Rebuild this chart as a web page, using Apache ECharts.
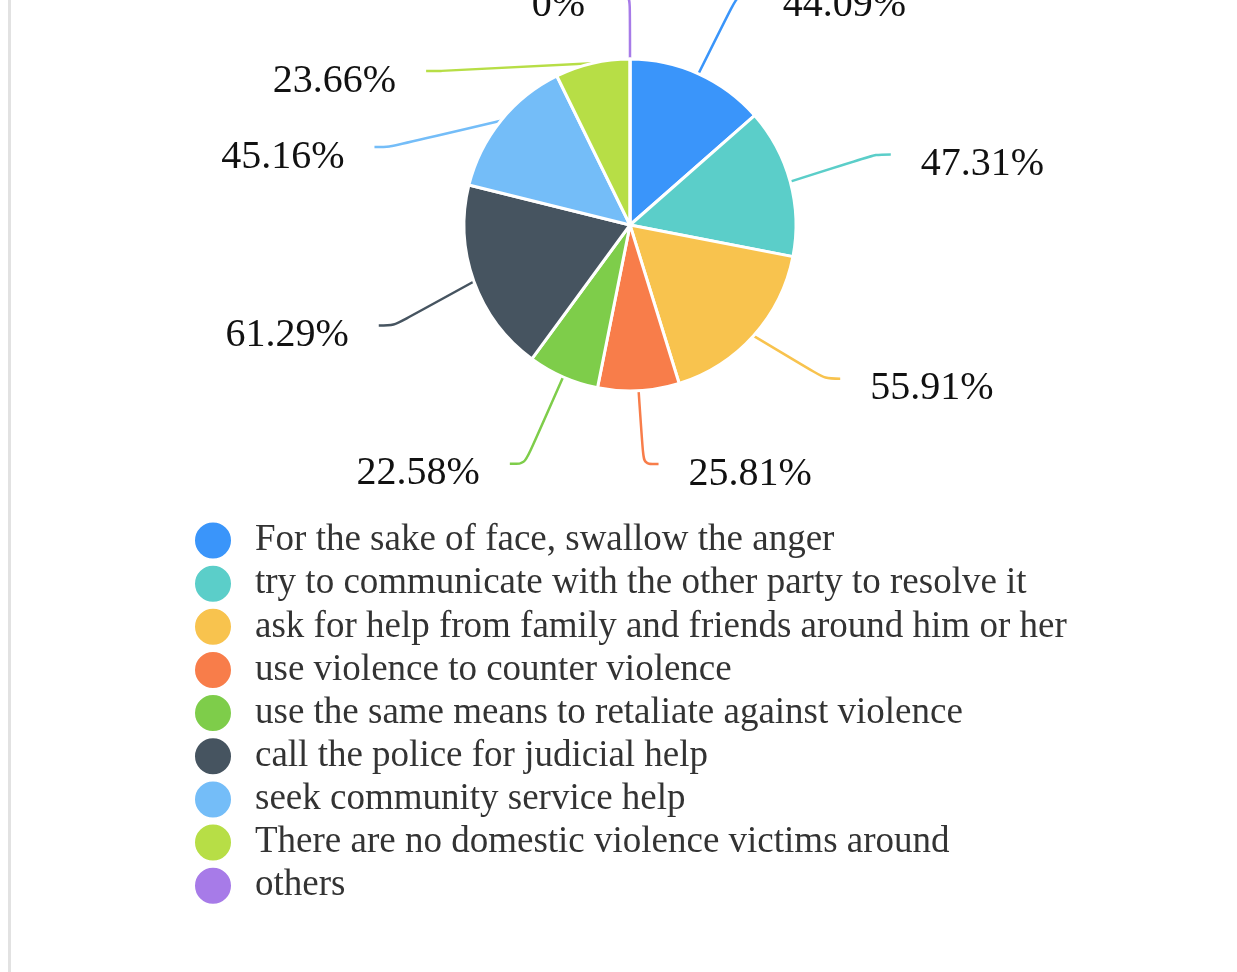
<!DOCTYPE html>
<html>
<head>
<meta charset="utf-8">
<script src="https://cdn.jsdelivr.net/npm/echarts@6/dist/echarts.min.js"></script>
<style>
  html, body { margin: 0; padding: 0; background: #fff; overflow: hidden; }
  #frame { position: absolute; left: 8px; top: 0; width: 1229px; height: 972px; border-left: 3px solid #e2e2e2; overflow: hidden; }
  #chart { position: absolute; left: -11px; top: -150px; width: 1237px; height: 1122px; }
</style>
</head>
<body>
<div id="frame"><div id="chart"></div></div>
<script>
// Responses to domestic violence (multiple choice, share of respondents, %)
const categories = [
  'For the sake of face, swallow the anger',
  'try to communicate with the other party to resolve it',
  'ask for help from family and friends around him or her',
  'use violence to counter violence',
  'use the same means to retaliate against violence',
  'call the police for judicial help',
  'seek community service help',
  'There are no domestic violence victims around',
  'others'
];
const values = [44.09, 47.31, 55.91, 25.81, 22.58, 61.29, 45.16, 23.66, 0];
const colors = ['#3a95fa', '#5bcec9', '#f8c34e', '#f87d4a', '#7ecd4a', '#465460', '#74bdf8', '#b7de46', '#a77be8'];

const chart = echarts.init(document.getElementById('chart'));
chart.setOption({
  animation: false,
  color: colors,
  legend: {
    orient: 'vertical',
    left: 188,
    top: 665.5,
    icon: 'circle',
    itemWidth: 38,
    itemHeight: 38,
    itemGap: 3.15,
    textStyle: {
      fontFamily: 'Liberation Serif',
      fontSize: 37,
      lineHeight: 38,
      color: '#333',
      padding: [0, 0, 0, 18]
    },
    data: categories
  },
  series: [{
    type: 'pie',
    // pie box: labels are kept inside it
    left: 0,
    width: 1237,
    top: 117,
    height: 545,
    center: [630, 258],
    radius: 166,
    startAngle: 90,
    clockwise: true,
    itemStyle: { borderColor: '#fff', borderWidth: 3 },
    label: {
      formatter: '{c}%',
      fontFamily: 'Liberation Serif',
      fontSize: 40,
      color: '#111',
      lineHeight: 54,
      padding: [10, 25, 10, 25],
      offset: [0, 10]
    },
    labelLine: {
      length: 95,
      length2: 15,
      smooth: 0.3,
      lineStyle: { width: 2.5 }
    },
    data: categories.map((name, i) => ({ name, value: values[i] }))
  }]
});
</script>
</body>
</html>
